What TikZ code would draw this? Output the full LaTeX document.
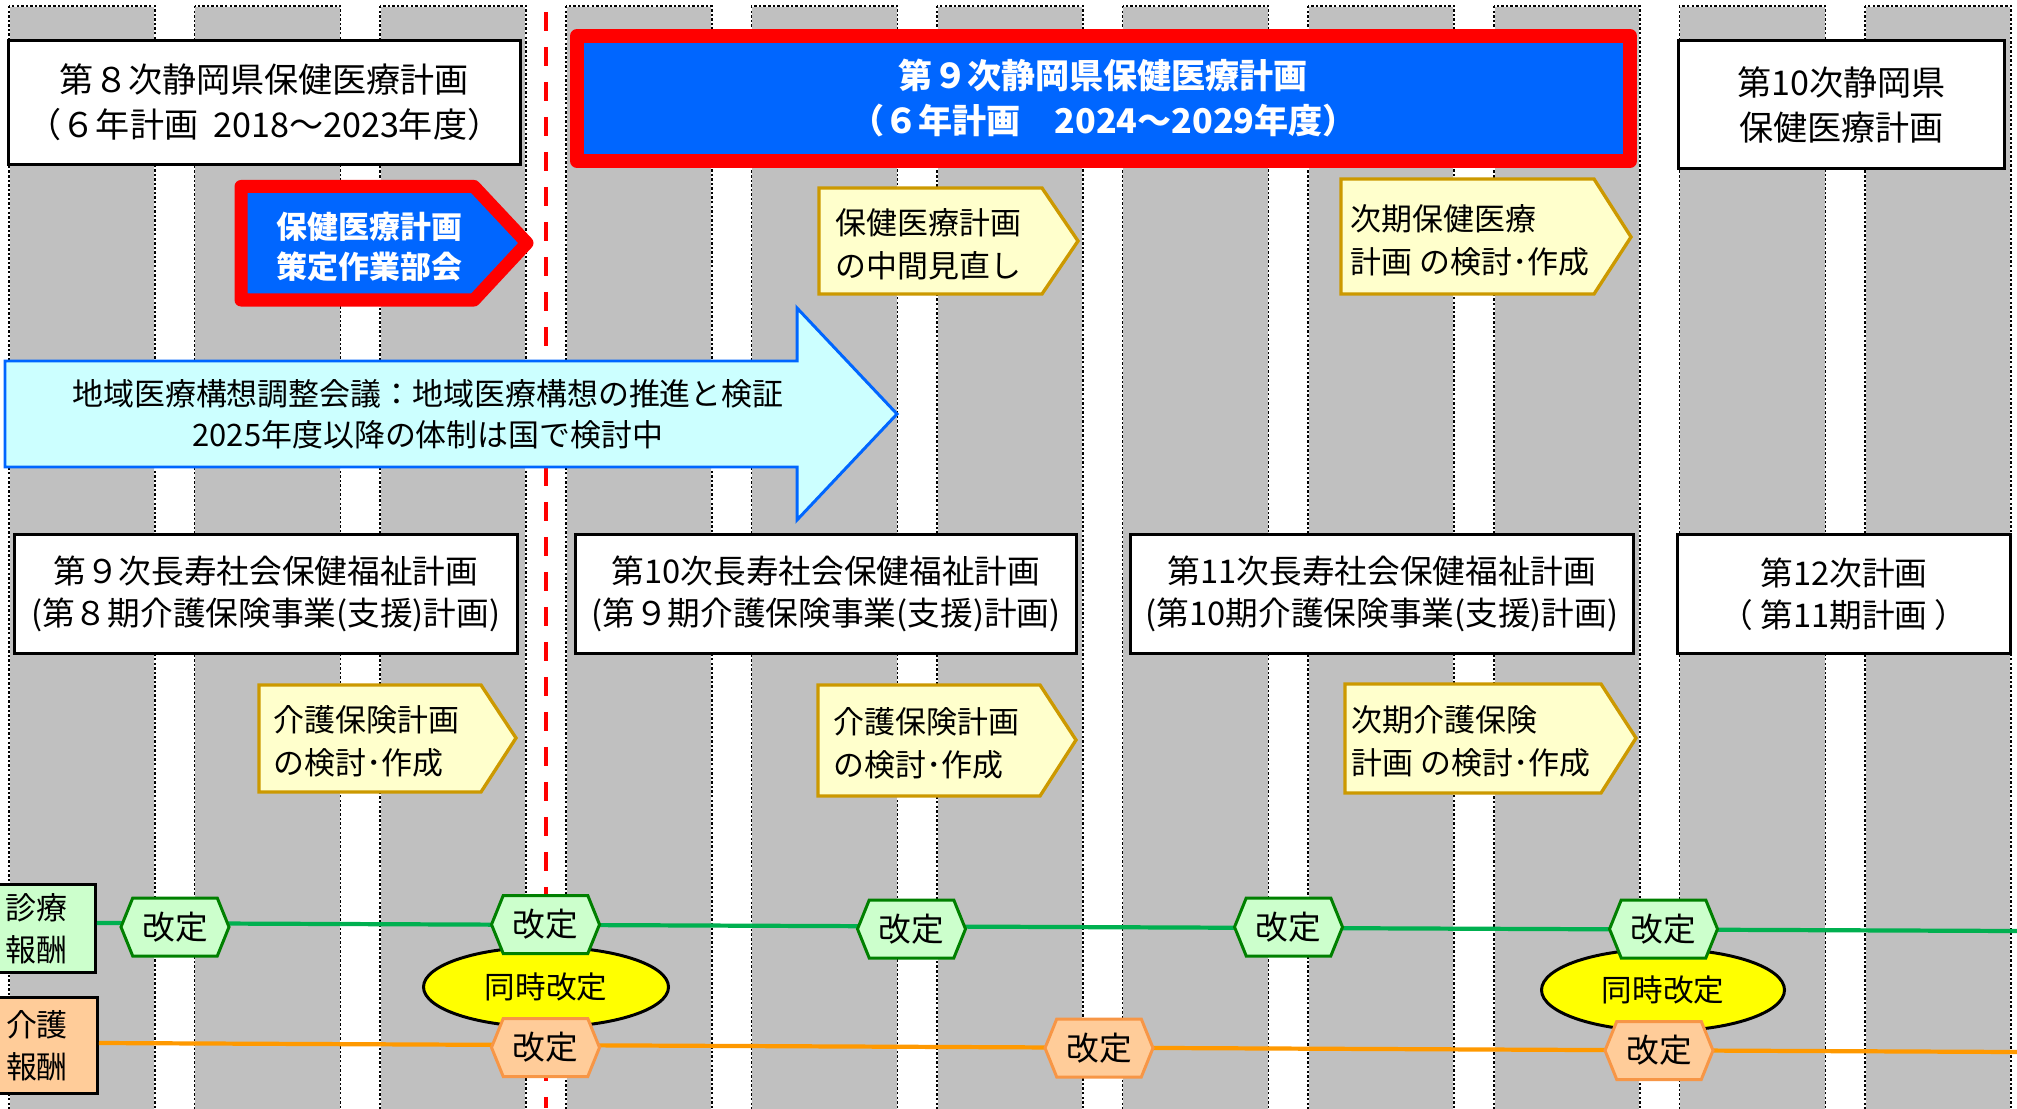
\documentclass[tikz,border=0pt]{standalone}
\usepackage{fontspec}
\setmainfont{Noto Sans CJK JP}
\usetikzlibrary{shapes.symbols,shapes.geometric}
\definecolor{colgray}{HTML}{C0C0C0}
\definecolor{planblue}{HTML}{0066FF}
\definecolor{planred}{HTML}{FF0000}
\definecolor{yelfill}{HTML}{FFFFCC}
\definecolor{yelline}{HTML}{CC9900}
\definecolor{cyanfill}{HTML}{CCFFFF}
\definecolor{cyanline}{HTML}{0066FF}
\definecolor{grnfill}{HTML}{CCFFCC}
\definecolor{grnedge}{HTML}{008000}
\definecolor{grnline}{HTML}{00B050}
\definecolor{orgfill}{HTML}{FFCC99}
\definecolor{orgedge}{HTML}{F79646}
\definecolor{orgline}{HTML}{FF9900}
\definecolor{ellfill}{HTML}{FFFF00}
\tikzset{
  coledge/.style={draw=black, line width=0.45pt, dash pattern=on 0.7pt off 0.6pt},
  plan/.style={draw=black, fill=white, line width=0.85pt, align=center, inner sep=0pt, font=\fontsize{9.7pt}{12.8pt}\selectfont},
  planhot/.style={draw=planred, fill=planblue, line width=3.98pt, line join=round, text=white, align=center, inner sep=0pt, font=\fontsize{9.7pt}{12.8pt}\selectfont\bfseries},
  care/.style={plan, font=\fontsize{9.3pt}{12pt}\selectfont},
  yelshape/.style={draw=yelline, fill=yelfill, line width=0.95pt},
  yeltext/.style={anchor=west, align=left, inner sep=0pt, font=\fontsize{8.8pt}{12.2pt}\selectfont},
  hotarrow/.style={draw=planred, fill=planblue, line width=3.7pt, line join=round},
  hottext/.style={text=white, align=center, inner sep=0pt, font=\fontsize{8.8pt}{11.4pt}\selectfont\bfseries},
  cyanshape/.style={draw=cyanline, fill=cyanfill, line width=0.85pt},
  cyantext/.style={align=center, inner sep=0pt, font=\fontsize{8.8pt}{11.7pt}\selectfont},
  fee/.style={draw=black, line width=0.85pt, align=center, inner sep=0pt, font=\fontsize{8.8pt}{11.9pt}\selectfont},
  hexg/.style={shape=signal, signal to=west and east, signal pointer angle=136, draw=grnedge, fill=grnfill, line width=0.85pt, minimum width=10.8mm, minimum height=5.8mm, inner sep=0pt, font=\fontsize{9.3pt}{11pt}\selectfont},
  hexo/.style={hexg, draw=orgedge, fill=orgfill},
  same/.style={ellipse, draw=black, fill=ellfill, line width=0.85pt, inner sep=0pt, font=\fontsize{8.7pt}{11pt}\selectfont},
  feeline/.style={line width=1.2pt},
  cutline/.style={draw=planred, line width=1.28pt, dash pattern=on 1.9mm off 1.6mm},
}
\begin{document}
\begin{tikzpicture}[x=0.1mm,y=-0.1mm]
\useasboundingbox (0,0) rectangle (2017,1108);
\clip (0,0) rectangle (2017,1108);
\fill[white] (0,0) rectangle (2017,1108);
% year columns
\foreach \i in {0,...,10}{
  \pgfmathsetmacro{\xl}{9+185.6*\i}
  \fill[colgray] (\xl,6) rectangle ++(146,1120);
  \draw[white, line width=0.45pt] (\xl,6) rectangle ++(146,1120);
  \draw[coledge] (\xl,6) rectangle ++(146,1120);
}
% fiscal boundary
\coordinate (cutTop) at (546,12);
\coordinate (cutBot) at (546,1108);
\draw[cutline] (cutTop) -- (cutBot);

% health & medical plans
\node[plan, minimum width=51.2mm, minimum height=12.4mm] (p8) at (264.5,102.5) {第８次静岡県保健医療計画\\（６年計画\ \ 2018～2023年度）};
\node[planhot, minimum width=105.3mm, minimum height=12.5mm] (p9) at (1103.5,98.5) {第９次静岡県保健医療計画\\（６年計画　2024～2029年度）};
\node[plan, minimum width=32.6mm, minimum height=12.8mm] (p10) at (1841.5,104.5) {第10次静岡県\\保健医療計画};

% working group arrow
\draw[hotarrow] (241,186.5) -- (474,186.5) -- (527,243) -- (474,300) -- (241,300) -- cycle;
\node[hottext] (strat) at (369.5,247) {保健医療計画\\策定作業部会};

% yellow pentagons (upper)
\draw[yelshape] (819,188) -- (1042,188) -- (1078,241) -- (1042,294) -- (819,294) -- cycle;
\node[yeltext] (midrev) at (835,244) {保健医療計画\\の中間見直し};
\draw[yelshape] (1341,179) -- (1594,179) -- (1631,237) -- (1594,294) -- (1341,294) -- cycle;
\node[yeltext] (nextplan) at (1350,240) {次期保健医療\\計画 の検討･作成};

% regional vision arrow
\draw[cyanshape] (5,361) -- (797,361) -- (797,308) -- (897,414) -- (797,520) -- (797,467) -- (5,467) -- cycle;
\node[cyantext] (vision) at (428,414.5) {地域医療構想調整会議：地域医療構想の推進と検証\\2025年度以降の体制は国で検討中};

% long-life welfare plans
\node[care, minimum width=50.3mm, minimum height=11.9mm] (c9) at (265.8,594) {第９次長寿社会保健福祉計画\\(第８期介護保険事業(支援)計画)};
\node[care, minimum width=50.1mm, minimum height=11.9mm] (c10) at (826,594) {第10次長寿社会保健福祉計画\\(第９期介護保険事業(支援)計画)};
\node[care, minimum width=50.3mm, minimum height=11.9mm] (c11) at (1382,594) {第11次長寿社会保健福祉計画\\(第10期介護保険事業(支援)計画)};
\node[care, minimum width=33.3mm, minimum height=11.9mm] (c12) at (1844,594) {第12次計画\\（ 第11期計画 ）};

% yellow pentagons (lower)
\draw[yelshape] (259,685) -- (481,685) -- (516,738) -- (481,792) -- (259,792) -- cycle;
\node[yeltext] (care1) at (273,741) {介護保険計画\\の検討･作成};
\draw[yelshape] (818,685) -- (1040,685) -- (1076,740) -- (1040,796) -- (818,796) -- cycle;
\node[yeltext] (care2) at (833,743.5) {介護保険計画\\の検討･作成};
\draw[yelshape] (1345,684) -- (1601,684) -- (1636,738) -- (1601,793) -- (1345,793) -- cycle;
\node[yeltext] (care3) at (1351,741) {次期介護保険\\計画 の検討･作成};

% fee labels and lines
\node[fee, fill=grnfill, minimum width=11.9mm, minimum height=8.8mm] (medfee) at (36,928.5) {診療\\報酬};
\node[fee, fill=orgfill, minimum width=12.1mm, minimum height=9.6mm] (carefee) at (37,1045.5) {介護\\報酬};
\coordinate (gEnd) at (2017,931);
\coordinate (oEnd) at (2017,1052);
\draw[feeline, grnline] ([yshift=0.55mm]medfee.east) -- (gEnd);
\draw[feeline, orgline] ([yshift=0.25mm]carefee.east) -- (oEnd);

% simultaneous revisions
\node[same, minimum width=24.5mm, minimum height=8.0mm] (sync1) at (546,987) {同時改定};
\node[same, minimum width=24.3mm, minimum height=8.2mm] (sync2) at (1663,990) {同時改定};

% revision hexagons
\node[hexg] (m1) at (175,927) {改定};
\node[hexg] (m2) at (545.5,924.5) {改定};
\node[hexg] (m3) at (911.5,929) {改定};
\node[hexg] (m4) at (1288.5,927) {改定};
\node[hexg] (m5) at (1663.5,929) {改定};
\node[hexo] (k1) at (545.5,1047.5) {改定};
\node[hexo] (k2) at (1099,1048) {改定};
\node[hexo] (k3) at (1659,1050.5) {改定};
\end{tikzpicture}
\end{document}
